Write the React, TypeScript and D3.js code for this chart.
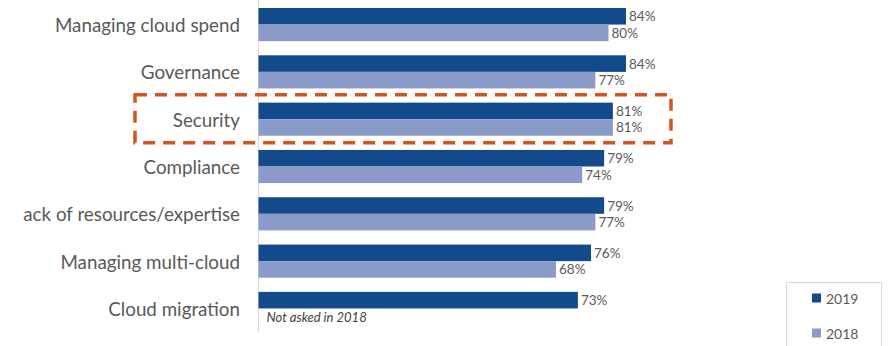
import React from "react";
import * as d3 from "d3";

const categories = [
  "Managing cloud spend",
  "Governance",
  "Security",
  "Compliance",
  "ack of resources/expertise",
  "Managing multi-cloud",
  "Cloud migration",
];
const values2019 = [84, 84, 81, 79, 79, 76, 73];
const values2018: (number | null)[] = [80, 77, 81, 74, 77, 68, null];
const seriesNames = ["2019", "2018"];
const highlighted = "Security";
const footnote = "Not asked in 2018";

const W = 891;
const H = 346;
const C2019 = "#124a8c";
const C2018 = "#8a9bca";
const TEXT = "#595959";
const FONT = "Lato, 'Open Sans', 'DejaVu Sans', sans-serif";

export default function App() {
  const x = d3.scaleLinear().domain([0, 100]).range([258.5, 696]);
  const y = d3.scaleBand<string>().domain(categories).range([8, 325]).paddingInner(0.3).paddingOuter(0);
  const sub = d3.scaleBand<string>().domain(seriesNames).range([0, y.bandwidth()]).padding(0);

  const hy = y(highlighted)!;

  return (
    <svg width={W} height={H} style={{ position: "absolute", left: 0, top: 0, background: "#fff" }} fontFamily={FONT}>
      <line x1={x(0)} x2={x(0)} y1={0} y2={332} stroke="#d9d9d9" strokeWidth={1.2} />
      {categories.map((c, i) => {
        const gy = y(c)!;
        const v19 = values2019[i];
        const v18 = values2018[i];
        return (
          <g key={c}>
            <text x={240} y={gy + y.bandwidth() / 2} textAnchor="end" dominantBaseline="central" fontSize={18.8} fill={TEXT}>
              {c}
            </text>
            <rect x={x(0)} y={gy + sub("2019")!} width={x(v19) - x(0)} height={sub.bandwidth()} fill={C2019} />
            <text x={x(v19) + 3} y={gy + sub("2019")! + sub.bandwidth() / 2} dominantBaseline="central" fontSize={13.5} fill={TEXT}>
              {v19}%
            </text>
            {v18 != null ? (
              <>
                <rect x={x(0)} y={gy + sub("2018")!} width={x(v18) - x(0)} height={sub.bandwidth()} fill={C2018} />
                <text x={x(v18) + 3} y={gy + sub("2018")! + sub.bandwidth() / 2} dominantBaseline="central" fontSize={13.5} fill={TEXT}>
                  {v18}%
                </text>
              </>
            ) : (
              <text x={x(0) + 8} y={gy + sub("2018")! + sub.bandwidth() / 2} dominantBaseline="central" fontSize={13} fontStyle="italic" fill="#404040">
                {footnote}
              </text>
            )}
          </g>
        );
      })}
      <rect x={135} y={hy - 8} width={536} height={y.bandwidth() + 15} fill="none" stroke="#d4541c" strokeWidth={3.5} strokeDasharray="12 8" />
      <rect x={786.5} y={282.5} width={95} height={80} fill="none" stroke="#d9d9d9" strokeWidth={1} />
      {seriesNames.map((s, i) => (
        <g key={s} transform={`translate(812, ${298 + i * 35})`}>
          <rect x={0} y={-4.5} width={9} height={9} fill={s === "2019" ? C2019 : C2018} />
          <text x={14} y={0} dominantBaseline="central" fontSize={14} fill={TEXT}>
            {s}
          </text>
        </g>
      ))}
    </svg>
  );
}
